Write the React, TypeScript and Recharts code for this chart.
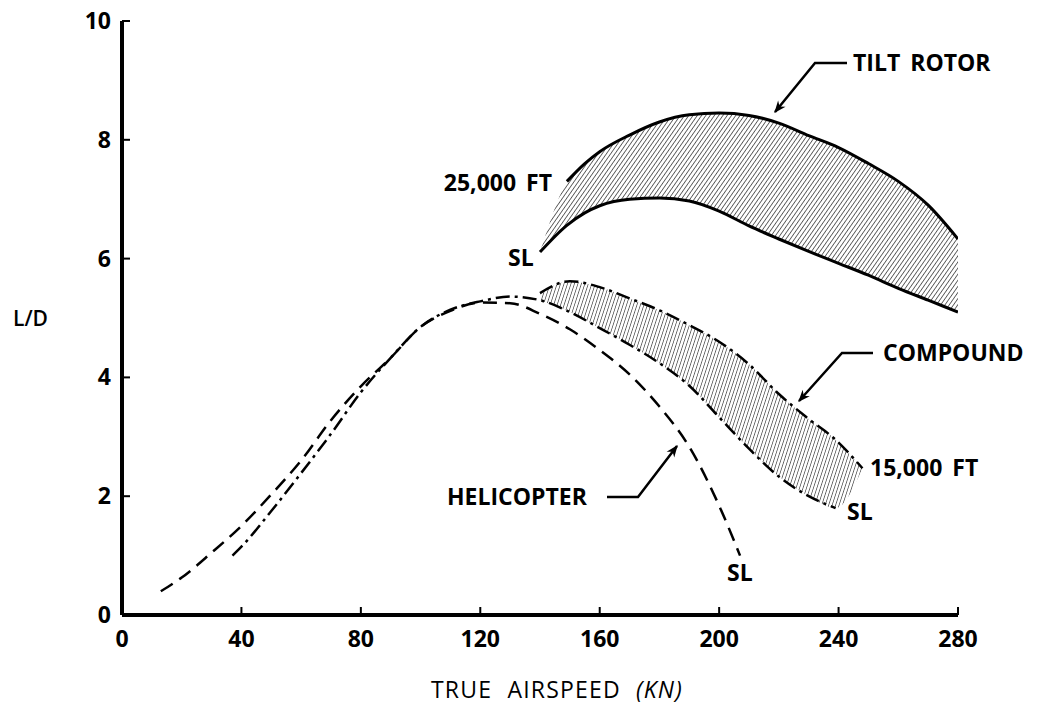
import React from 'react';
import { ComposedChart, XAxis, YAxis, Area, Line } from 'recharts';

// ---- axes ----
const xTicks = [0, 40, 80, 120, 160, 200, 240, 280];
const yTicks = [0, 2, 4, 6, 8, 10];

// ---- tilt rotor band (L/D vs true airspeed, kn) ----
const tiltSpeed = [140, 149, 155, 160, 170, 180, 190, 200, 210, 220, 230, 240, 250, 260, 270, 280];
const tilt25k = [null, 7.3, 7.6, 7.8, 8.08, 8.3, 8.42, 8.45, 8.41, 8.28, 8.07, 7.87, 7.6, 7.3, 6.9, 6.33];
const tiltSL = [6.11, 6.56, 6.77, 6.89, 7.0, 7.02, 6.97, 6.8, 6.55, 6.33, 6.12, 5.92, 5.72, 5.5, 5.3, 5.1];

// ---- compound band ----
const compSpeed = [140, 150, 160, 170, 180, 190, 200, 210, 220, 230, 239, 248];
const comp15k = [5.42, 5.62, 5.52, 5.33, 5.13, 4.88, 4.6, 4.22, 3.72, 3.3, 2.95, 2.47];
const compSL = [5.3, 5.1, 4.83, 4.55, 4.24, 3.86, 3.33, 2.8, 2.33, 2.0, 1.8, null];
const compLowSpeed = [37, 40, 50, 60, 70, 80, 90, 100, 110, 120, 130];
const compLowSL = [1.0, 1.15, 1.75, 2.39, 3.05, 3.75, 4.33, 4.85, 5.14, 5.28, 5.36];

// ---- helicopter ----
const heliSpeed = [13, 20, 30, 40, 50, 60, 70, 80, 90, 100, 110, 120, 130, 140, 150, 160, 170, 180, 190, 200, 207];
const heliSL = [0.4, 0.63, 1.05, 1.5, 2.03, 2.6, 3.28, 3.85, 4.33, 4.85, 5.12, 5.26, 5.25, 5.07, 4.81, 4.46, 4.05, 3.51, 2.83, 1.84, 1.0];

// ---- derived tables ----
const tiltBand = tiltSpeed.map((x, i) => ({ x, range: [tiltSL[i], tilt25k[i] ?? tiltSL[i]] }));
const tiltTopLine = tiltSpeed.map((x, i) => ({ x, y: tilt25k[i] })).filter((d) => d.y != null);
const tiltLowLine = tiltSpeed.map((x, i) => ({ x, y: tiltSL[i] }));

const compBand = compSpeed.map((x, i) => ({ x, range: [compSL[i] ?? comp15k[i], comp15k[i]] }));
const compTopLine = compSpeed.map((x, i) => ({ x, y: comp15k[i] }));
const compLowLine = [
  ...compLowSpeed.map((x, i) => ({ x, y: compLowSL[i] })),
  ...compSpeed.map((x, i) => ({ x, y: compSL[i] })).filter((d) => d.y != null),
];
const heliLine = heliSpeed.map((x, i) => ({ x, y: heliSL[i] }));

const FONT = "'Open Sans', 'Liberation Sans', Arial, sans-serif";

const XTick = (props: any) => {
  const { x, y, payload } = props;
  return (
    <g>
      <line x1={x} y1={y} x2={x} y2={y - 8} stroke="#000" strokeWidth={2} />
      <text x={x} y={y + 32} textAnchor="middle" fontFamily={FONT} fontWeight={700} fontSize={23} fill="#000">
        {payload.value}
      </text>
    </g>
  );
};

const YTick = (props: any) => {
  const { x, y, payload } = props;
  return (
    <g>
      <line x1={x} y1={y} x2={x + 8} y2={y} stroke="#000" strokeWidth={2} />
      <text x={x - 11} y={y + 8} textAnchor="end" fontFamily={FONT} fontWeight={700} fontSize={23} fill="#000">
        {payload.value}
      </text>
    </g>
  );
};

const labelStyle = { fontFamily: FONT, fontWeight: 700, fontSize: 23, fill: '#000', wordSpacing: 4 } as const;

export default function App() {
  return (
    <div style={{ position: 'absolute', left: 0, top: 0, width: 1038, height: 715, background: '#fff' }}>
      <ComposedChart width={1038} height={715} margin={{ top: 21, right: 80, bottom: 70, left: 62 }}>
        <defs>
          <pattern id="hatchTilt" width="3.5" height="3.5" patternUnits="userSpaceOnUse" patternTransform="rotate(35)">
            <line x1="0" y1="0" x2="0" y2="3.5" stroke="#1a1a1a" strokeWidth="1.3" />
          </pattern>
          <pattern id="hatchComp" width="3.3" height="3.3" patternUnits="userSpaceOnUse" patternTransform="rotate(18)">
            <line x1="0" y1="0" x2="0" y2="3.3" stroke="#222" strokeWidth="1.2" />
          </pattern>
        </defs>
        <XAxis
          type="number"
          dataKey="x"
          domain={[0, 280]}
          ticks={xTicks}
          height={30}
          tickSize={0}
          tickMargin={0}
          tickLine={false}
          tick={<XTick />}
          axisLine={{ stroke: '#000', strokeWidth: 4 }}
          allowDataOverflow
        />
        <YAxis
          type="number"
          domain={[0, 10]}
          ticks={yTicks}
          width={60}
          tickSize={0}
          tickMargin={0}
          tickLine={false}
          tick={<YTick />}
          axisLine={{ stroke: '#000', strokeWidth: 4 }}
          allowDataOverflow
        />
        <Area data={tiltBand} dataKey="range" type="monotone" stroke="none" fill="url(#hatchTilt)" fillOpacity={1} isAnimationActive={false} />
        <Area data={compBand} dataKey="range" type="monotone" stroke="none" fill="url(#hatchComp)" fillOpacity={1} isAnimationActive={false} />
        <Line data={tiltTopLine} dataKey="y" type="monotone" dot={false} stroke="#000" strokeWidth={3} isAnimationActive={false} />
        <Line data={tiltLowLine} dataKey="y" type="monotone" dot={false} stroke="#000" strokeWidth={3} isAnimationActive={false} />
        <Line data={compTopLine} dataKey="y" type="monotone" dot={false} stroke="#000" strokeWidth={2.5} strokeDasharray="14 5 3 5" isAnimationActive={false} />
        <Line data={compLowLine} dataKey="y" type="monotone" dot={false} stroke="#000" strokeWidth={2.5} strokeDasharray="14 5 3 5" isAnimationActive={false} />
        <Line data={heliLine} dataKey="y" type="monotone" dot={false} stroke="#000" strokeWidth={2.5} strokeDasharray="14 8" isAnimationActive={false} />
      </ComposedChart>
      <svg width={1038} height={715} style={{ position: 'absolute', left: 0, top: 0, pointerEvents: 'none' }}>
        <defs>
          <marker id="arrowHead" viewBox="0 0 10 10" refX="9" refY="5" markerWidth="14" markerHeight="12" orient="auto" markerUnits="userSpaceOnUse">
            <path d="M0,1 L10,5 L0,9 L3,5 Z" fill="#000" />
          </marker>
        </defs>
        {/* tilt rotor */}
        <text x={853} y={71} {...labelStyle}>TILT ROTOR</text>
        <polyline points="847,63 815,63 775,112" fill="none" stroke="#000" strokeWidth={2.5} markerEnd="url(#arrowHead)" />
        <text x={552} y={191} textAnchor="end" {...labelStyle}>25,000 FT</text>
        <text x={508} y={266} {...labelStyle}>SL</text>
        {/* compound */}
        <text x={883} y={361} {...labelStyle}>COMPOUND</text>
        <polyline points="873,353 842,353 799,401" fill="none" stroke="#000" strokeWidth={2.5} markerEnd="url(#arrowHead)" />
        <text x={870} y={476} {...labelStyle}>15,000 FT</text>
        <text x={847} y={520} {...labelStyle}>SL</text>
        {/* helicopter */}
        <text x={447} y={505} {...labelStyle}>HELICOPTER</text>
        <polyline points="607,497 638,497 677,446" fill="none" stroke="#000" strokeWidth={2.5} markerEnd="url(#arrowHead)" />
        <text x={727} y={581} {...labelStyle}>SL</text>
        {/* axis titles */}
        <text x={13} y={326} fontFamily={FONT} fontWeight={600} fontSize={21} fill="#000">L/D</text>
        <text x={557} y={698} textAnchor="middle" fontFamily={FONT} fontWeight={500} fontSize={23} letterSpacing={1.2} wordSpacing={8} fill="#000">
          TRUE AIRSPEED <tspan fontStyle="italic">(KN)</tspan>
        </text>
      </svg>
    </div>
  );
}
